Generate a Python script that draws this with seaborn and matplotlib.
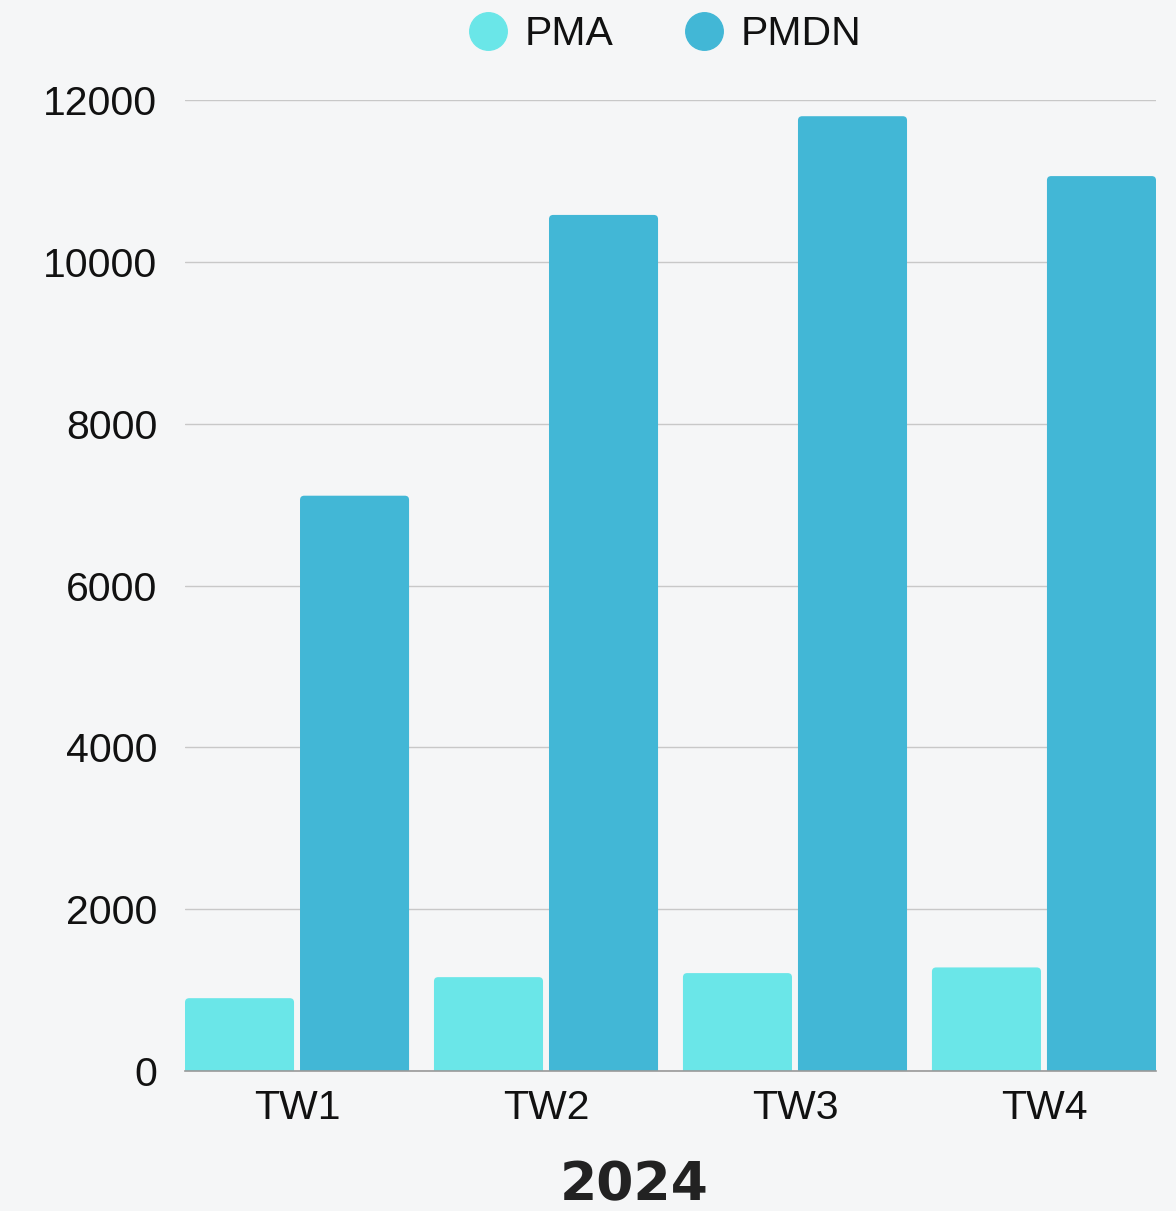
import pandas as pd
import matplotlib.pyplot as plt
import seaborn as sns
from matplotlib.lines import Line2D
from matplotlib.patches import FancyBboxPatch

# Data
quarters = ['TW1', 'TW2', 'TW3', 'TW4']
pma = [900, 1160, 1210, 1280]
pmdn = [7110, 10580, 11800, 11060]
series_names = ['PMA', 'PMDN']
colors = ['#6ae6e8', '#42b7d6']
year_label = '2024'

df = pd.DataFrame({
    'Kuartal': quarters * 2,
    'Nilai': pma + pmdn,
    'Seri': [series_names[0]] * len(quarters) + [series_names[1]] * len(quarters),
})

sns.set_theme(style="white")
plt.rcParams['font.family'] = ['Liberation Sans', 'DejaVu Sans']

bg = '#f5f6f7'
fig = plt.figure(figsize=(11.76, 12.11), dpi=100, facecolor=bg)
ax = fig.add_axes([0.1573, 0.1156, 0.8257, 0.8018])
ax.set_facecolor(bg)

sns.barplot(data=df, x='Kuartal', y='Nilai', hue='Seri', palette=colors,
            width=0.924, gap=0.052, saturation=1, legend=False, ax=ax)

ax.set_xlim(-0.45, 3.45)
ax.set_ylim(0, 12000)

# round the top corners of the bars (bottom rounding is hidden below the axis)
bbox = ax.get_window_extent()
aspect = (12000 / bbox.height) / (3.9 / bbox.width)
r = 0.017
for p in list(ax.patches):
    x, y, w, h = p.get_x(), p.get_y(), p.get_width(), p.get_height()
    extra = r * aspect
    fb = FancyBboxPatch((x, y - extra), w, h + extra,
                        boxstyle=f'round,pad=0,rounding_size={r}',
                        mutation_aspect=aspect, facecolor=p.get_facecolor(),
                        edgecolor='none', zorder=p.get_zorder())
    ax.add_patch(fb)
    p.remove()

ax.set_yticks(range(0, 12001, 2000))
ax.yaxis.grid(True, color='#c8c8c8', linewidth=1)
ax.set_axisbelow(True)
for side in ['left', 'right', 'top']:
    ax.spines[side].set_visible(False)
ax.spines['bottom'].set_color('#999999')
ax.spines['bottom'].set_linewidth(1.2)
ax.spines['bottom'].set_zorder(5)
ax.tick_params(axis='both', length=0, labelsize=29.5, colors='#111111')
ax.tick_params(axis='y', pad=20)
ax.tick_params(axis='x', pad=13)
ax.set_ylabel('')
ax.set_xlabel('')

fig.text(0.539, 0.0, year_label, ha='center', va='bottom', fontsize=38.5,
         fontweight='bold', family='DejaVu Sans', color='#222222')

handles = [Line2D([0], [0], marker='o', linestyle='', markersize=27,
                  markerfacecolor=c, markeredgecolor=c) for c in colors]
fig.legend(handles, series_names, loc='center', bbox_to_anchor=(0.565, 0.972),
           ncol=2, frameon=False, fontsize=29.5, handlelength=1.0,
           handletextpad=0.4, columnspacing=1.7, labelcolor='#111111')

fig.savefig('out.png', dpi=100, facecolor=bg)
